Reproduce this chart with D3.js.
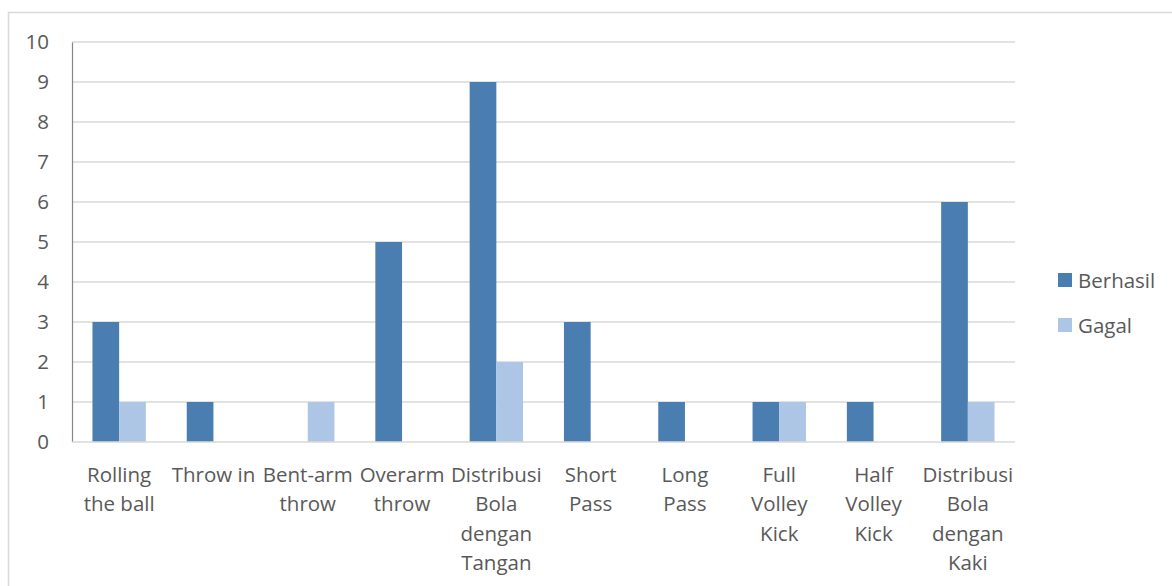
<!DOCTYPE html>
<html>
<head>
<meta charset="utf-8">
<script src="https://cdn.jsdelivr.net/npm/d3@7"></script>
<style>
  html, body { margin: 0; padding: 0; background: #fff; }
  svg text { font-family: "Open Sans", sans-serif; fill: #595959; }
</style>
</head>
<body>
<svg id="chart" width="1172" height="586"></svg>
<script>
// Category labels, already broken into lines as they appear under the axis
const categories = [
  ["Rolling", "the ball"],
  ["Throw in"],
  ["Bent-arm", "throw"],
  ["Overarm", "throw"],
  ["Distribusi", "Bola", "dengan", "Tangan"],
  ["Short", "Pass"],
  ["Long", "Pass"],
  ["Full", "Volley", "Kick"],
  ["Half", "Volley", "Kick"],
  ["Distribusi", "Bola", "dengan", "Kaki"]
];
const seriesNames = ["Berhasil", "Gagal"];
const berhasil = [3, 1, 0, 5, 9, 3, 1, 1, 1, 6];
const gagal    = [1, 0, 1, 0, 2, 0, 0, 1, 0, 1];
const yTicks = [0, 1, 2, 3, 4, 5, 6, 7, 8, 9, 10];
const colors = ["#4a7eb0", "#adc6e5"];

const FONT = "'Open Sans', sans-serif";
const FS = 20.5;

const svg = d3.select("#chart");
const plot = { left: 72, right: 1015, top: 42, bottom: 442 };

// outer chart frame
svg.append("rect")
  .attr("x", 8.5).attr("y", 12.5)
  .attr("width", 1200).attr("height", 600)
  .attr("fill", "none").attr("stroke", "#d9d9d9").attr("stroke-width", 1.5);

const x = d3.scaleBand()
  .domain(d3.range(categories.length))
  .range([plot.left, plot.right])
  .paddingInner(0).paddingOuter(0);

const x1 = d3.scaleBand()
  .domain(seriesNames)
  .range([0, x.bandwidth()])
  .paddingOuter(0.766).paddingInner(0);

const y = d3.scaleLinear().domain([0, 10]).range([plot.bottom, plot.top]);

// horizontal gridlines
svg.append("g")
  .selectAll("line")
  .data(yTicks.filter(d => d > 0))
  .join("line")
  .attr("x1", plot.left).attr("x2", plot.right)
  .attr("y1", d => y(d)).attr("y2", d => y(d))
  .attr("stroke", "#d9d9d9").attr("stroke-width", 1.5);

// bars
const data = categories.map((c, i) => ({ i, values: [berhasil[i], gagal[i]] }));
const groups = svg.append("g")
  .selectAll("g")
  .data(data)
  .join("g")
  .attr("transform", d => `translate(${x(d.i)},0)`);

groups.selectAll("rect")
  .data(d => d.values.map((v, k) => ({ name: seriesNames[k], v, k })).filter(e => e.v > 0))
  .join("rect")
  .attr("x", e => x1(e.name))
  .attr("width", x1.bandwidth())
  .attr("y", e => y(e.v))
  .attr("height", e => y(0) - y(e.v))
  .attr("fill", e => colors[e.k]);

// y axis
const yAxis = svg.append("g")
  .attr("transform", `translate(${plot.left},0)`)
  .call(d3.axisLeft(y).tickValues(yTicks).tickSize(0).tickPadding(23));
yAxis.select(".domain").attr("stroke", "#868686").attr("stroke-width", 1.2);
yAxis.selectAll("text")
  .attr("font-size", FS)
  .style("font-family", FONT)
  .attr("fill", "#595959");

// baseline
svg.append("line")
  .attr("x1", plot.left).attr("x2", plot.right)
  .attr("y1", y(0)).attr("y2", y(0))
  .attr("stroke", "#d9d9d9").attr("stroke-width", 1.5);

// x axis labels
const xl = svg.append("g")
  .selectAll("text")
  .data(categories)
  .join("text")
  .attr("text-anchor", "middle")
  .attr("font-size", FS)
  .attr("y", 482);
xl.selectAll("tspan")
  .data((d, i) => d.map(line => ({ line, i })))
  .join("tspan")
  .attr("x", d => x(d.i) + x.bandwidth() / 2)
  .attr("dy", (d, j) => j === 0 ? 0 : 29.3)
  .text(d => d.line);

// legend
const legend = svg.append("g")
  .selectAll("g")
  .data(seriesNames)
  .join("g")
  .attr("transform", (d, i) => `translate(1058,${273 + i * 45})`);
legend.append("rect")
  .attr("width", 14).attr("height", 14)
  .attr("fill", (d, i) => colors[i]);
legend.append("text")
  .attr("x", 20).attr("y", 14.5)
  .attr("font-size", FS)
  .text(d => d);
</script>
</body>
</html>
